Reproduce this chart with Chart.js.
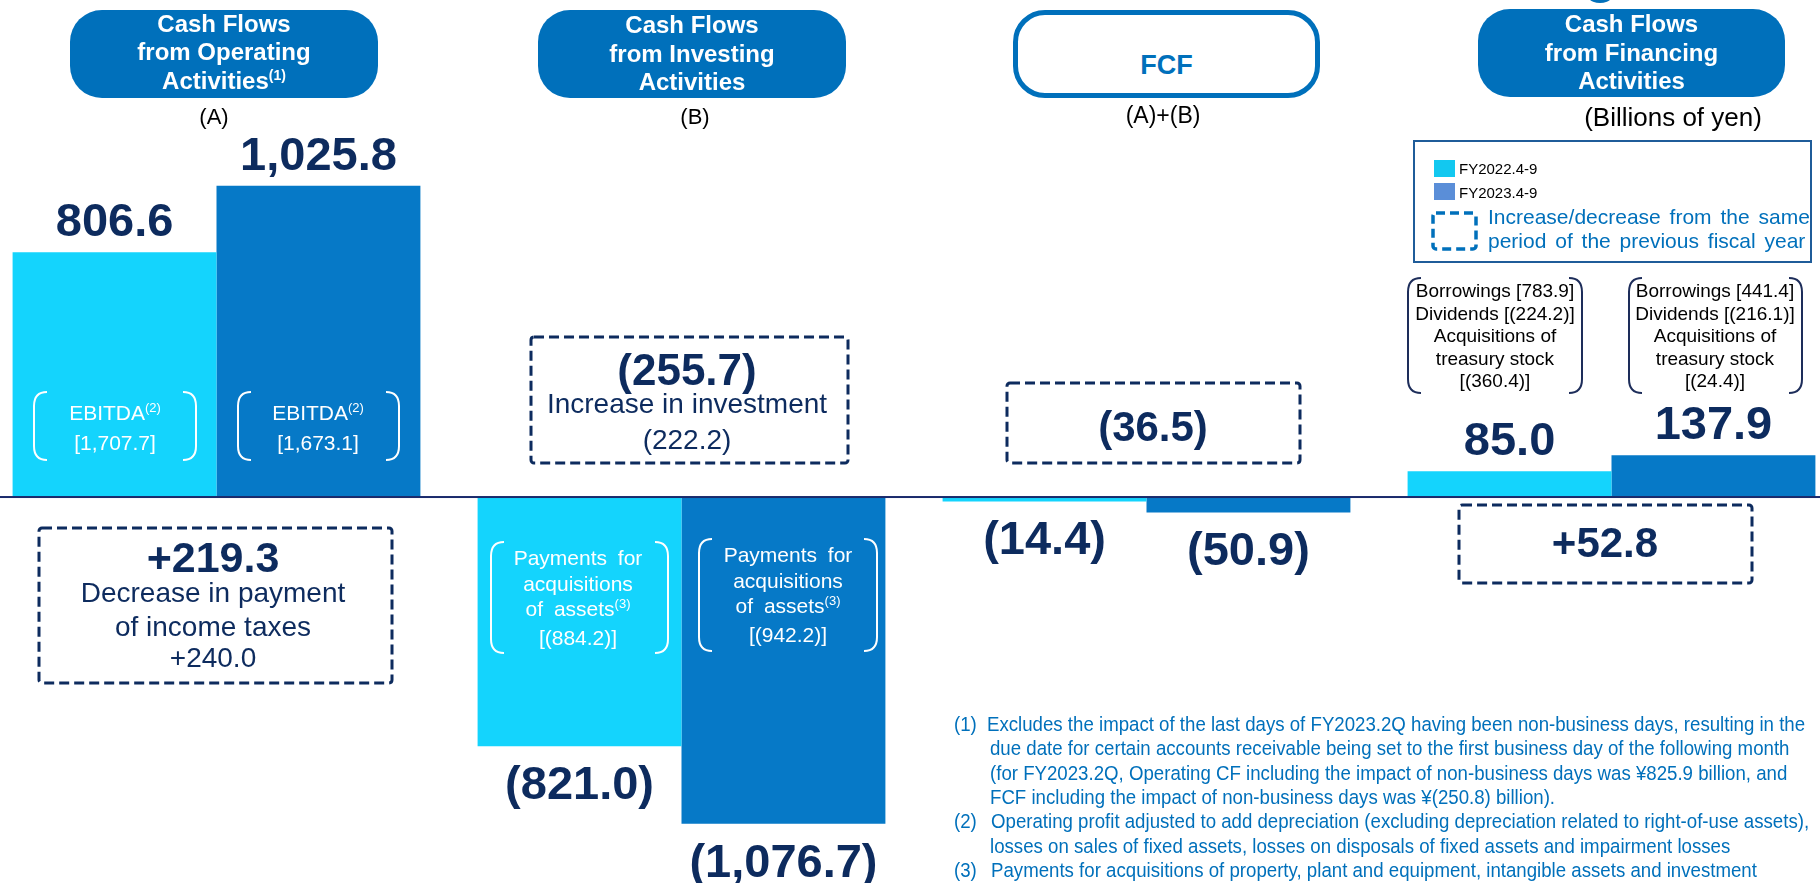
<!DOCTYPE html>
<html>
<head>
<meta charset="utf-8">
<title>Cash Flows</title>
<script src="https://cdn.jsdelivr.net/npm/chart.js"></script>
<style>
  body {
    margin: 0;
    width: 1820px;
    height: 883px;
    overflow: hidden;
    background: #fff;
    position: relative;
    font-family: "Liberation Sans", Arial, sans-serif;
  }
  #c { position: absolute; left: -16px; top: 0; }
  #ov { position: absolute; left: 0; top: 0; }
  .pill {
    position: absolute;
    top: 10px;
    width: 308px;
    height: 88px;
    box-sizing: border-box;
    border-radius: 32px;
    background: #0070bb;
    color: #fff;
    font-weight: bold;
    font-size: 24px;
    line-height: 28.5px;
    display: flex;
    align-items: center;
    justify-content: center;
    text-align: center;
  }
  .sup { font-size: 14px; position: relative; top: -9px; font-weight: bold; }
  .supn { font-size: 13px; position: relative; top: -8px; }
  .t {
    position: absolute;
    transform: translate(-50%, -50%);
    white-space: nowrap;
    text-align: center;
  }
  .big { font-weight: bold; font-size: 43px; color: #0d2b5e; }
  .mid { font-size: 28px; color: #0d2b5e; }
  .w { color: #fff; font-size: 21px; }
  .fin { color: #000; font-size: 19px; line-height: 22.5px; }
  .fn {
    position: absolute;
    font-size: 20.5px;
    line-height: 24px;
    color: #0070bb;
    white-space: nowrap;
    transform-origin: 0 50%;
  }
</style>
</head>
<body>
<canvas id="c" width="1860" height="883"></canvas>
<svg id="ov" width="1820" height="883"></svg>

<div class="pill" style="left:70px;"><div>Cash Flows<br>from Operating<br>Activities<span class="sup">(1)</span></div></div>
<div class="pill" style="left:538px;"><div>Cash Flows<br>from Investing<br>Activities</div></div>
<div class="pill" style="left:1013px; width:307px; background:#fff; border:5px solid #0070bb; color:#0070bb; font-size:27px; padding-top:22px;"><div>FCF</div></div>
<div class="pill" style="left:1478px; width:307px; top:9px;"><div>Cash Flows<br>from Financing<br>Activities</div></div>

<div class="t" style="left:214px; top:117px; font-size:22px;">(A)</div>
<div class="t" style="left:695px; top:117px; font-size:22px;">(B)</div>
<div class="t" style="left:1163px; top:115px; font-size:23px;">(A)+(B)</div>
<div class="t" style="left:1673px; top:117px; font-size:26px;">(Billions of yen)</div>

<!-- legend -->
<div style="position:absolute; left:1413px; top:140px; width:399px; height:123px; box-sizing:border-box; border:2px solid #1f5c99;"></div>
<div style="position:absolute; left:1434px; top:160px; width:21px; height:17px; background:#12c8f0;"></div>
<div style="position:absolute; left:1434px; top:183px; width:21px; height:17px; background:#5a8ed8;"></div>
<div class="t" style="left:1459px; top:168px; transform:translate(0,-50%); font-size:15px;" id="lg0"></div>
<div class="t" style="left:1459px; top:192px; transform:translate(0,-50%); font-size:15px;" id="lg1"></div>
<div class="t" style="left:1488px; top:217px; transform:translate(0,-50%); font-size:21px; color:#0070bb; word-spacing:3px;">Increase/decrease from the same</div>
<div class="t" style="left:1488px; top:241px; transform:translate(0,-50%); font-size:21px; color:#0070bb; word-spacing:3px;">period of the previous fiscal year</div>

<!-- operating -->
<div class="t w" style="left:115px; top:427px; line-height:27px;">EBITDA<span class="supn">(2)</span><br>[1,707.7]</div>
<div class="t w" style="left:318px; top:427px; line-height:27px;">EBITDA<span class="supn">(2)</span><br>[1,673.1]</div>
<div class="t big" style="left:213px; top:557px;">+219.3</div>
<div class="t mid" style="left:213px; top:593px;">Decrease in payment</div>
<div class="t mid" style="left:213px; top:627px;">of income taxes</div>
<div class="t mid" style="left:213px; top:658px;">+240.0</div>

<!-- investing -->
<div class="t big" style="left:687px; top:370px; font-size:44px;">(255.7)</div>
<div class="t mid" style="left:687px; top:404px;">Increase in investment</div>
<div class="t mid" style="left:687px; top:440px;">(222.2)</div>
<div class="t w" style="left:578px; top:598px; line-height:25.7px; word-spacing:5px;">Payments for<br>acquisitions<br>of assets<span class="supn">(3)</span><br>[(884.2)]</div>
<div class="t w" style="left:788px; top:595px; line-height:25.7px; word-spacing:5px;">Payments for<br>acquisitions<br>of assets<span class="supn">(3)</span><br>[(942.2)]</div>

<!-- fcf -->
<div class="t big" style="left:1153px; top:427px; font-size:42px;">(36.5)</div>

<!-- financing -->
<div class="t fin" style="left:1495px; top:336px;">Borrowings [783.9]<br>Dividends [(224.2)]<br>Acquisitions of<br>treasury stock<br>[(360.4)]</div>
<div class="t fin" style="left:1715px; top:336px;">Borrowings [441.4]<br>Dividends [(216.1)]<br>Acquisitions of<br>treasury stock<br>[(24.4)]</div>
<div class="t big" style="left:1605px; top:543px; font-size:42px;">+52.8</div>

<!-- footnotes -->
<div class="fn" style="left:954px; top:712px;">(1)</div>
<div class="fn fl" style="left:987px; top:712px;">Excludes the impact of the last days of FY2023.2Q having been non-business days, resulting in the</div>
<div class="fn fl" style="left:990px; top:736.3px;">due date for certain accounts receivable being set to the first business day of the following month</div>
<div class="fn fl" style="left:990px; top:760.6px;">(for FY2023.2Q, Operating CF including the impact of non-business days was ¥825.9 billion, and</div>
<div class="fn fl" style="left:990px; top:784.9px;">FCF including the impact of non-business days was ¥(250.8) billion).</div>
<div class="fn" style="left:954px; top:809.2px;">(2)</div>
<div class="fn fl" style="left:991px; top:809.2px;">Operating profit adjusted to add depreciation (excluding depreciation related to right-of-use assets),</div>
<div class="fn fl" style="left:990px; top:833.5px;">losses on sales of fixed assets, losses on disposals of fixed assets and impairment losses</div>
<div class="fn" style="left:954px; top:857.8px;">(3)</div>
<div class="fn fl" style="left:991px; top:857.8px;">Payments for acquisitions of property, plant and equipment, intangible assets and investment</div>
<div class="fn fl" style="left:990px; top:880px;">properties</div>

<script>
  const categories = ['Operating', 'Investing', 'FCF', 'Financing'];
  const seriesNames = ['FY2022.4-9', 'FY2023.4-9'];
  const fy2022 = [806.6, -821.0, -14.4, 85.0];
  const fy2023 = [1025.8, -1076.7, -50.9, 137.9];

  document.getElementById('lg0').textContent = seriesNames[0];
  document.getElementById('lg1').textContent = seriesNames[1];

  function fmt(v) {
    const s = Math.abs(v).toLocaleString('en-US', { minimumFractionDigits: 1, maximumFractionDigits: 1 });
    return v < 0 ? '(' + s + ')' : s;
  }

  // zero line + value labels at the bar ends
  const barLabels = {
    id: 'barLabels',
    afterDatasetsDraw(chart) {
      const ctx = chart.ctx;
      const y0 = chart.scales.y.getPixelForValue(0);
      ctx.save();
      ctx.fillStyle = '#1a2a6c';
      ctx.fillRect(0, y0 - 1, chart.width, 2);
      ctx.font = 'bold 47px "Liberation Sans", Arial, sans-serif';
      ctx.fillStyle = '#0d2b5e';
      ctx.textAlign = 'center';
      ctx.textBaseline = 'middle';
      chart.data.datasets.forEach((ds, i) => {
        chart.getDatasetMeta(i).data.forEach((bar, j) => {
          const v = ds.data[j];
          const y = v >= 0 ? bar.y - 29 : bar.y + 40;
          ctx.fillText(fmt(v), bar.x, y);
        });
      });
      ctx.restore();
    }
  };

  new Chart(document.getElementById('c'), {
    type: 'bar',
    data: {
      labels: categories,
      datasets: [
        { label: seriesNames[0], data: fy2022, backgroundColor: '#14d4fd' },
        { label: seriesNames[1], data: fy2023, backgroundColor: '#0679c7' }
      ]
    },
    options: {
      responsive: false,
      animation: false,
      categoryPercentage: 0.877,
      barPercentage: 1,
      layout: { padding: 0 },
      plugins: { legend: { display: false }, tooltip: { enabled: false } },
      scales: {
        x: { display: false },
        y: { display: false, min: -1272, max: 1638 }
      }
    },
    plugins: [barLabels]
  });

  // dashed boxes and brackets
  const svg = document.getElementById('ov');
  const NS = 'http://www.w3.org/2000/svg';
  function add(tag, attrs) {
    const el = document.createElementNS(NS, tag);
    for (const k in attrs) el.setAttribute(k, attrs[k]);
    svg.appendChild(el);
  }
  function dashBox(x0, y0, x1, y1, color, w, dash) {
    add('rect', { x: x0, y: y0, width: x1 - x0, height: y1 - y0, rx: 3, fill: 'none',
      stroke: color, 'stroke-width': w, 'stroke-dasharray': dash });
  }
  function brackets(x0, y0, x1, y1, color) {
    const h = 13, r = 14;
    const d = 'M' + (x0 + h) + ' ' + y0 + ' Q' + x0 + ' ' + y0 + ' ' + x0 + ' ' + (y0 + r) +
      ' L' + x0 + ' ' + (y1 - r) + ' Q' + x0 + ' ' + y1 + ' ' + (x0 + h) + ' ' + y1 +
      ' M' + (x1 - h) + ' ' + y0 + ' Q' + x1 + ' ' + y0 + ' ' + x1 + ' ' + (y0 + r) +
      ' L' + x1 + ' ' + (y1 - r) + ' Q' + x1 + ' ' + y1 + ' ' + (x1 - h) + ' ' + y1;
    add('path', { d: d, fill: 'none', stroke: color, 'stroke-width': 2 });
  }
  dashBox(39, 528, 392, 683, '#0d2b5e', 3, '10 5');
  dashBox(531, 337, 848, 463, '#0d2b5e', 3, '10 5');
  dashBox(1007, 383, 1300, 463, '#0d2b5e', 3, '10 5');
  dashBox(1459, 505, 1752, 583, '#0d2b5e', 3, '10 5');
  dashBox(1433, 213, 1476, 249, '#0070bb', 3.5, '9 5');
  brackets(34, 392, 196, 460, '#fff');
  brackets(238, 392, 399, 460, '#fff');
  brackets(491, 542, 668, 653, '#fff');
  brackets(699, 539, 877, 651, '#fff');
  brackets(1408, 278, 1582, 393, '#1d2d5a');
  brackets(1629, 278, 1802, 393, '#1d2d5a');
  add('circle', { cx: 1600, cy: -15, r: 18, fill: '#0070bb' });

  // footnotes are set in a narrow face: squeeze them evenly
  const lines = document.querySelectorAll('.fl');
  const k = 818 / lines[0].scrollWidth;
  document.querySelectorAll('.fn').forEach(el => { el.style.transform = 'scaleX(' + k + ')'; });
</script>
</body>
</html>
